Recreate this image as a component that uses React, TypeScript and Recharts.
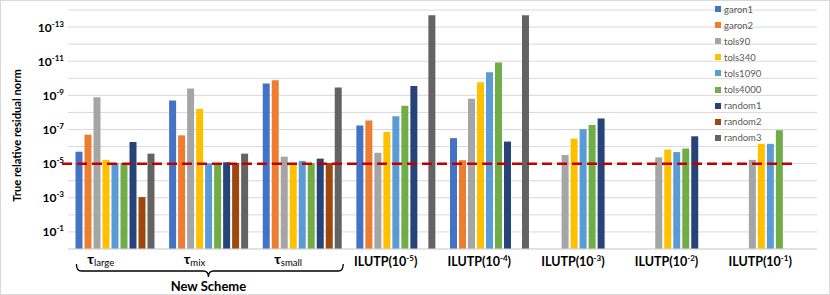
import {
  BarChart,
  Bar,
  XAxis,
  YAxis,
  CartesianGrid,
  Legend,
  ReferenceLine,
} from "recharts";

// categories: "_" marks a subscript, "^" a superscript exponent
const categories = [
  "τ_large",
  "τ_mix",
  "τ_small",
  "ILUTP(10^-5)",
  "ILUTP(10^-4)",
  "ILUTP(10^-3)",
  "ILUTP(10^-2)",
  "ILUTP(10^-1)",
];

// true relative residual norm per category (null = no bar)
const garon1 = [2.0e-6, 2.0e-9, 2.0e-10, 5.8e-8, 3.2e-7, null, null, null];
const garon2 = [2.0e-7, 2.2e-7, 1.3e-10, 3.0e-8, 6.3e-6, null, null, null];
const tols90 = [1.3e-9, 4.0e-10, 3.9e-6, 2.3e-6, 1.6e-9, 3.1e-6, 4.3e-6, 6.0e-6];
const tols340 = [6.0e-6, 6.3e-9, 9.1e-6, 1.4e-7, 1.7e-10, 3.4e-7, 1.5e-6, 6.9e-7];
const tols1090 = [9.1e-6, 9.5e-6, 6.9e-6, 1.7e-8, 4.5e-11, 9.5e-8, 2.1e-6, 6.9e-7];
const tols4000 = [9.1e-6, 9.5e-6, 9.1e-6, 4.1e-9, 1.2e-11, 5.4e-8, 1.3e-6, 1.1e-7];
const random1 = [5.4e-7, 8.3e-6, 5.1e-6, 2.8e-10, 5.1e-7, 2.3e-8, 2.5e-7, null];
const random2 = [9.1e-4, 9.1e-6, 9.1e-6, null, null, null, null, null];
const random3 = [2.6e-6, 2.6e-6, 3.5e-10, 2.0e-14, 2.0e-14, null, null, null];

// axis shows exponents 10^-0 .. 10^-14, labelled on odd ones
const yTicks = [0, 1, 2, 3, 4, 5, 6, 7, 8, 9, 10, 11, 12, 13, 14];
const tolerance = 1e-5;

const series = [
  { name: "garon1", values: garon1 },
  { name: "garon2", values: garon2 },
  { name: "tols90", values: tols90 },
  { name: "tols340", values: tols340 },
  { name: "tols1090", values: tols1090 },
  { name: "tols4000", values: tols4000 },
  { name: "random1", values: random1 },
  { name: "random2", values: random2 },
  { name: "random3", values: random3 },
];

const colors: Record<string, string> = {
  garon1: "#4472C4",
  garon2: "#ED7D31",
  tols90: "#A5A5A5",
  tols340: "#FFC000",
  tols1090: "#5B9BD5",
  tols4000: "#70AD47",
  random1: "#264478",
  random2: "#9E480E",
  random3: "#636363",
};

const toExp = (v: number | null) => (v == null ? null : -Math.log10(v));

const rows = categories.map((name, i) => {
  const row: Record<string, string | number | null> = { name };
  for (const s of series) row[s.name] = toExp(s.values[i]);
  return row;
});

const FONT = "Lato, 'Open Sans', sans-serif";
const W = 828;
const H = 293;
const MARGIN = { top: 9, right: 12, bottom: 0, left: 0 };
const Y_WIDTH = 67;
const BAND = (W - MARGIN.left - MARGIN.right - Y_WIDTH) / categories.length;

function ExpTick(props: any) {
  const { x, y, payload } = props;
  if (payload.value % 2 !== 1) return <g />;
  return (
    <text
      x={x}
      y={y + 4.5}
      textAnchor="end"
      fontFamily={FONT}
      fontWeight={700}
      fontSize={12}
      fill="#000"
    >
      <tspan>10</tspan>
      <tspan dy={-5} fontSize={8}>
        -{payload.value}
      </tspan>
    </text>
  );
}

function CategoryTick(props: any) {
  const { x, y, payload, index } = props;
  const label: string = payload.value;
  let text;
  if (label.includes("_")) {
    const [main, sub] = label.split("_");
    text = (
      <text
        x={x - 14}
        y={y + 15}
        textAnchor="middle"
        fontFamily={FONT}
        fill="#000"
      >
        <tspan fontWeight={700} fontSize={14}>
          {main}
        </tspan>
        <tspan dy={2} fontSize={9.5}>
          {sub}
        </tspan>
      </text>
    );
  } else {
    const [main, rest] = label.split("^");
    text = (
      <text
        x={x - 10}
        y={y + 17}
        textAnchor="middle"
        fontFamily={FONT}
        fontWeight={700}
        fontSize={12.5}
        fill="#000"
      >
        <tspan>{main}</tspan>
        <tspan dy={-5} fontSize={8}>
          {rest.replace(")", "")}
        </tspan>
        <tspan dy={5}>)</tspan>
      </text>
    );
  }

  // brace under the three new-scheme groups, drawn from the middle one
  let brace = null;
  if (index === 1) {
    const xl = x - BAND * 1.41;
    const xr = x + BAND * 1.44;
    const d = `M${xl},${y + 15} Q${xl},${y + 22} ${xl + 5},${y + 22} L${x - 5},${y + 22} Q${x},${y + 22} ${x},${y + 28} Q${x},${y + 22} ${x + 5},${y + 22} L${xr - 5},${y + 22} Q${xr},${y + 22} ${xr},${y + 15}`;
    brace = (
      <g>
        <path d={d} fill="none" stroke="#000" strokeWidth={1.3} />
        <text
          x={x}
          y={y + 42}
          textAnchor="middle"
          fontFamily={FONT}
          fontWeight={700}
          fontSize={13}
          fill="#000"
        >
          New Scheme
        </text>
      </g>
    );
  }

  return (
    <g>
      {text}
      {brace}
    </g>
  );
}

// keep legend in series order rather than alphabetical
const order = series.map((s) => s.name);

function LegendList(props: any) {
  const payload = [...(props.payload || [])].sort(
    (a: any, b: any) => order.indexOf(a.value) - order.indexOf(b.value)
  );
  return (
    <div style={{ fontFamily: FONT, fontSize: 9.5, color: "#595959" }}>
      {payload.map((e: any) => (
        <div
          key={e.value}
          style={{ display: "flex", alignItems: "center", height: 16.1 }}
        >
          <span
            style={{
              width: 6,
              height: 6,
              background: e.color,
              marginRight: 3,
              display: "inline-block",
            }}
          />
          {e.value}
        </div>
      ))}
    </div>
  );
}

function YTitle(props: any) {
  const { viewBox } = props;
  const cx = 15;
  const cy = viewBox.y + viewBox.height / 2 + 6;
  return (
    <text
      x={cx}
      y={cy}
      transform={`rotate(-90 ${cx} ${cy})`}
      textAnchor="middle"
      dominantBaseline="central"
      fontFamily={FONT}
      fontWeight={700}
      fontSize={11.2}
      fill="#000"
    >
      True relative residual norm
    </text>
  );
}

export default function App() {
  return (
    <div
      style={{
        position: "absolute",
        left: 0,
        top: 0,
        width: W,
        height: H,
        border: "1px solid #d9d9d9",
        background: "#fff",
      }}
    >
      <BarChart
        width={W}
        height={H}
        data={rows}
        margin={MARGIN}
        barCategoryGap="8%"
        barGap={2}
      >
        <CartesianGrid vertical={false} stroke="#d9d9d9" />
        <XAxis
          dataKey="name"
          height={45}
          interval={0}
          tickLine={false}
          tickSize={0}
          tickMargin={0}
          axisLine={{ stroke: "#d9d9d9" }}
          tick={<CategoryTick />}
        />
        <YAxis
          type="number"
          domain={[0, 14]}
          ticks={yTicks}
          interval={0}
          width={Y_WIDTH}
          axisLine={false}
          tickLine={false}
          tickSize={0}
          tickMargin={4}
          tick={<ExpTick />}
          label={{ content: <YTitle /> }}
        />
        {series.map((s) => (
          <Bar
            key={s.name}
            dataKey={s.name}
            name={s.name}
            fill={colors[s.name]}
            isAnimationActive={false}
          />
        ))}
        <ReferenceLine
          y={toExp(tolerance) as number}
          stroke="#C00000"
          strokeWidth={2.5}
          strokeDasharray="10 5"
          shape={(p: any) => (
            <line
              x1={p.x1 - 6}
              y1={p.y1}
              x2={p.x2 - 21}
              y2={p.y2}
              stroke="#C00000"
              strokeWidth={2.5}
              strokeDasharray="10 5"
            />
          )}
        />
        <Legend
          layout="vertical"
          align="center"
          verticalAlign="middle"
          wrapperStyle={{ left: 714, top: 0, width: 100, height: "auto" }}
          content={<LegendList />}
        />
      </BarChart>
    </div>
  );
}
